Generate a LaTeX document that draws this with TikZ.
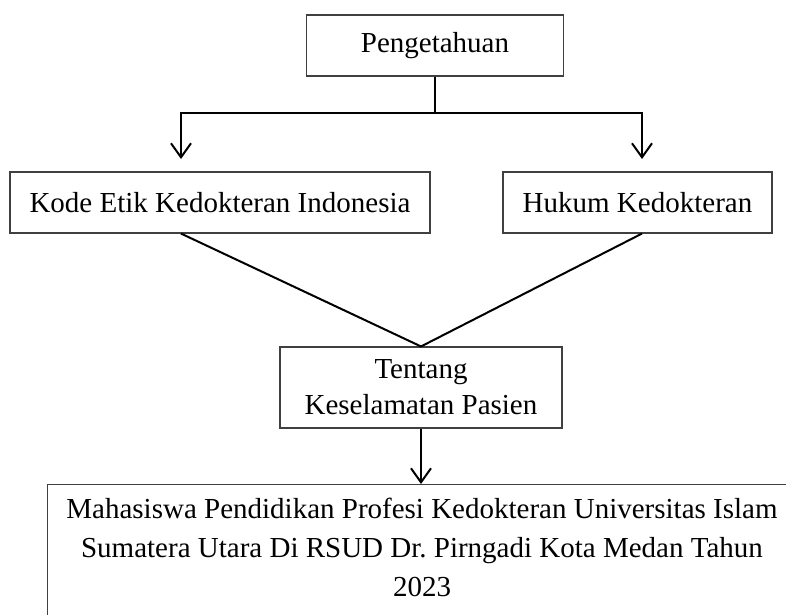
\documentclass[tikz,border=0pt]{standalone}
\usepackage{fontspec}
\setmainfont{Liberation Serif}
\usetikzlibrary{arrows.meta, calc}
\frenchspacing

\begin{document}
\begin{tikzpicture}[x=1pt, y=-1pt,
    box/.style={draw=black!75, line width=1.1pt, inner sep=0pt, align=center,
                font=\fontsize{29}{36}\selectfont},
    link/.style={line width=2pt},
    arr/.style={link, -{Straight Barb[length=14pt, width=20pt, line width=2pt]}}]
    \clip (0,0) rectangle (786,614);

    \node[box, minimum width=257pt, minimum height=61pt] (know)   at (435,45.5)   {Pengetahuan};
    \node[box, minimum width=420pt, minimum height=61pt] (ethics) at (220,202.5)  {Kode Etik Kedokteran Indonesia};
    \node[box, minimum width=269pt, minimum height=61pt] (law)    at (637.5,202.5) {Hukum Kedokteran};
    \node[box, minimum width=282pt, minimum height=81pt] (safety) at (421,387.5)  {Tentang\\Keselamatan Pasien};

    % bottom box runs past the page edge
    \node[box, anchor=north west, minimum width=780pt, minimum height=200pt] (frame) at (47,484) {};
    \node[anchor=north, inner sep=0pt, align=center, font=\fontsize{29}{39}\selectfont] (group) at (422,498)
        {Mahasiswa Pendidikan Profesi Kedokteran Universitas Islam\\
         Sumatera Utara Di RSUD Dr.\ Pirngadi Kota Medan Tahun\\
         2023};

    \coordinate (leftdrop)  at (181,159);
    \coordinate (rightdrop) at (642,159);

    \draw[link] (know.south) -- ++(0,36) coordinate (split);
    \draw[arr] (split) -| (leftdrop);
    \draw[arr] (split) -| (rightdrop);
    \draw[link] (ethics.south -| leftdrop) -- (safety.north);
    \draw[link] (law.south -| rightdrop) -- (safety.north);
    \draw[arr] (safety.south) -- (safety.south |- frame.north);
\end{tikzpicture}
\end{document}
